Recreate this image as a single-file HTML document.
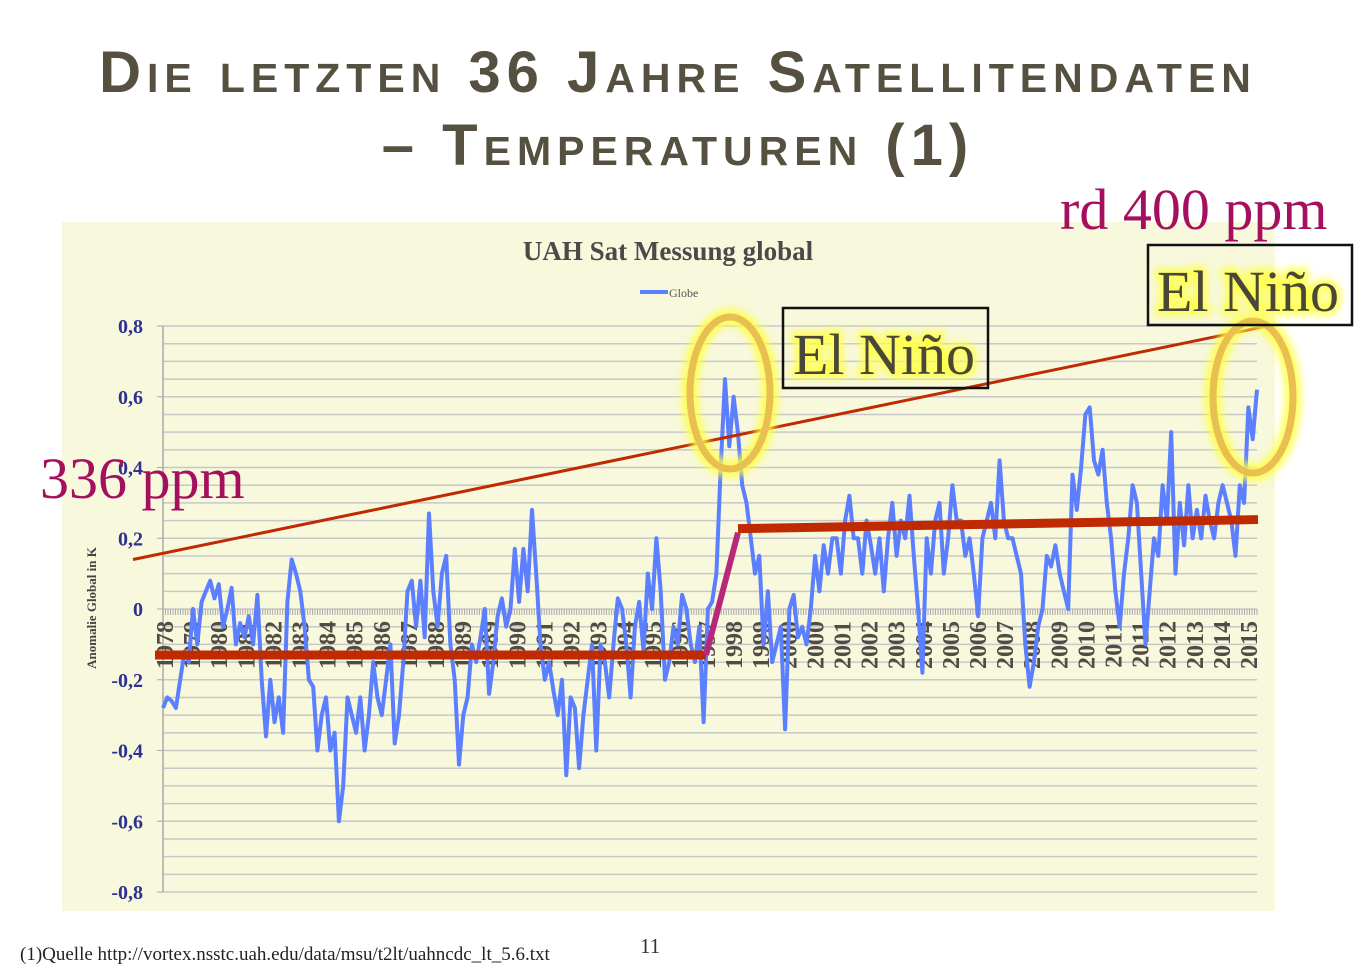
<!DOCTYPE html>
<html><head><meta charset="utf-8"><style>
body{margin:0;background:#fff;width:1356px;height:972px;overflow:hidden;font-family:"Liberation Serif",serif}
.t{position:absolute;left:0;width:1356px;text-align:center;font-family:"Liberation Sans",sans-serif;font-weight:bold;font-variant:small-caps;color:#555040;letter-spacing:6px;font-size:58px;line-height:70px}
</style></head><body>
<div class="t" style="top:38px">Die letzten 36 Jahre Satellitendaten</div>
<div class="t" style="top:111px">– Temperaturen (1)</div>
<svg id="chart" width="1356" height="972" style="position:absolute;left:0;top:0" xmlns="http://www.w3.org/2000/svg">
<defs><filter id="glow" x="-50%" y="-50%" width="200%" height="200%"><feGaussianBlur stdDeviation="4"/></filter></defs>
<rect x="62" y="222" width="1213" height="689" fill="#f7f8dc"/>
<text x="668" y="260" text-anchor="middle" font-size="27" font-weight="bold" fill="#4a4a4a">UAH Sat Messung global</text>
<line x1="640" y1="292" x2="668" y2="292" stroke="#5b7fff" stroke-width="4"/>
<text x="669" y="297" font-size="12" fill="#555">Globe</text>
<text transform="translate(96,608) rotate(-90)" text-anchor="middle" font-size="13" font-weight="bold" fill="#444">Anomalie Global in K</text>
<g id="grid"></g><g id="xlab"></g><g id="series"></g><g id="annot"></g>
</svg>
<script>
const yTicks=[0.8,0.6,0.4,0.2,0,-0.2,-0.4,-0.6,-0.8];
const xLabels=["1978","1979","1980","1981","1982","1983","1984","1985","1986","1987","1988","1989","1989","1990","1991","1992","1993","1994","1995","1996","1997","1998","1999","2000","2000","2001","2002","2003","2004","2005","2006","2007","2008","2009","2010","2011","2011","2012","2013","2014","2015"];
const globe=[-0.28,-0.25,-0.26,-0.28,-0.2,-0.12,-0.15,0.0,-0.1,0.02,0.05,0.08,0.03,0.07,-0.05,0.0,0.06,-0.1,-0.04,-0.08,-0.02,-0.1,0.04,-0.2,-0.36,-0.2,-0.32,-0.25,-0.35,0.02,0.14,0.1,0.05,-0.05,-0.2,-0.22,-0.4,-0.3,-0.25,-0.4,-0.35,-0.6,-0.5,-0.25,-0.3,-0.35,-0.25,-0.4,-0.3,-0.15,-0.25,-0.3,-0.2,-0.1,-0.38,-0.3,-0.15,0.05,0.08,-0.05,0.08,-0.08,0.27,0.05,-0.05,0.1,0.15,-0.1,-0.2,-0.44,-0.3,-0.25,-0.1,-0.15,-0.08,0.0,-0.24,-0.15,-0.02,0.03,-0.05,0.0,0.17,0.02,0.17,0.05,0.28,0.1,-0.1,-0.2,-0.15,-0.23,-0.3,-0.2,-0.47,-0.25,-0.28,-0.45,-0.3,-0.2,-0.1,-0.4,-0.1,-0.15,-0.25,-0.1,0.03,0.0,-0.1,-0.25,-0.05,0.02,-0.12,0.1,0.0,0.2,0.05,-0.2,-0.15,-0.05,-0.1,0.04,0.0,-0.1,-0.15,-0.05,-0.32,0.0,0.02,0.1,0.4,0.65,0.46,0.6,0.5,0.35,0.3,0.2,0.1,0.15,-0.1,0.05,-0.15,-0.1,-0.05,-0.34,0.0,0.04,-0.08,-0.05,-0.1,0.0,0.15,0.05,0.18,0.1,0.2,0.2,0.1,0.25,0.32,0.2,0.2,0.1,0.25,0.18,0.1,0.2,0.05,0.2,0.3,0.15,0.25,0.2,0.32,0.15,0.0,-0.18,0.2,0.1,0.25,0.3,0.1,0.2,0.35,0.25,0.25,0.15,0.2,0.1,-0.02,0.2,0.25,0.3,0.2,0.42,0.25,0.2,0.2,0.15,0.1,-0.1,-0.22,-0.15,-0.05,0.0,0.15,0.12,0.18,0.1,0.05,0.0,0.38,0.28,0.4,0.55,0.57,0.42,0.38,0.45,0.3,0.2,0.05,-0.05,0.1,0.2,0.35,0.3,0.1,-0.1,0.05,0.2,0.15,0.35,0.25,0.5,0.1,0.3,0.18,0.35,0.2,0.28,0.2,0.32,0.25,0.2,0.3,0.35,0.3,0.25,0.15,0.35,0.3,0.57,0.48,0.62];
const trendThin=[0.14,0.78];
const trendA=-0.13, trendB=[0.23,0.25];
const X0=163,X1=1257,Y0=609,K=353.75;
const NS="http://www.w3.org/2000/svg";
function y(v){return Y0-v*K;}
function x(i,n){return X0+(X1-X0)*i/(n-1);}
function mk(t,a,p){const e=document.createElementNS(NS,t);for(const k in a)e.setAttribute(k,a[k]);p.appendChild(e);return e;}
const grid=document.getElementById('grid');
for(let v=-0.8;v<=0.8001;v+=0.05){const l=mk('line',{x1:X0,x2:X1,y1:y(v),y2:y(v),stroke:'#c8c8c8','stroke-width':1.5},grid);

}
const ax=mk('line',{x1:X0,x2:X0,y1:y(0.8),y2:y(-0.8),stroke:'#aaa','stroke-width':1.5},grid);


yTicks.forEach(v=>{const t=mk('text',{x:143,y:y(v)+7,'text-anchor':'end','font-size':20,'font-weight':'bold',fill:'#2e3192'},grid);t.textContent=String(v).replace('.',',');


const tk=mk('line',{x1:X0-6,x2:X0,y1:y(v),y2:y(v),stroke:'#aaa'},grid);

});
const n=globe.length;
let d='';for(let i=0;i<440;i++){const xx=X0+(X1-X0)*i/439;d+='M'+xx+' '+Y0+'v6';}
const mt=mk('path',{d:d,stroke:'#aaa','stroke-width':1},grid);


const xl=document.getElementById('xlab');
xLabels.forEach((s,i)=>{const xx=X0+2+(X1-X0-10)*i/(xLabels.length-1);const t=mk('text',{transform:`translate(${xx+8},621) rotate(-90)`,'text-anchor':'end','font-size':24,'font-weight':'bold',fill:'#504c44'},xl);t.textContent=s;

});
const pts=globe.map((v,i)=>x(i,n).toFixed(1)+','+y(v).toFixed(1)).join(' ');
const pl=mk('polyline',{points:pts,fill:'none',stroke:'#5b7fff','stroke-width':4,'stroke-linejoin':'round'},document.getElementById('series'));


const an=document.getElementById('annot');
const a1=mk('line',{x1:133,y1:y(trendThin[0])+0,x2:1267,y2:y(trendThin[1])-7,stroke:'#c02a00','stroke-width':3},an);


const a2=mk('line',{x1:155,y1:y(trendA),x2:706,y2:y(trendA),stroke:'#c02a00','stroke-width':9},an);


const a3=mk('line',{x1:706,y1:y(trendA),x2:738,y2:y(trendB[0])+5,stroke:'#b8287a','stroke-width':6},an);


const a4=mk('line',{x1:738,y1:y(trendB[0])+1,x2:1258,y2:y(trendB[1])-1,stroke:'#c02a00','stroke-width':9},an);


[[730,393],[1253,397]].forEach(c=>{mk('ellipse',{cx:c[0],cy:c[1],rx:40,ry:76,fill:'none',stroke:'#ffff40','stroke-width':16,filter:'url(#glow)',opacity:0.9},an);
const e=mk('ellipse',{cx:c[0],cy:c[1],rx:40,ry:76,fill:'none',stroke:'#e8bf50','stroke-width':7},an);

});
function box(x0,y0,w,h,tx,ty,name){const r=mk('rect',{x:x0,y:y0,width:w,height:h,fill:'#fff','fill-opacity':0,stroke:'#111','stroke-width':2.5},an);


mk('text',{x:tx,y:ty,'font-size':58,fill:'none',stroke:'#ffff50','stroke-width':8,filter:'url(#glow)'},an).textContent='El Niño';
const t=mk('text',{x:tx,y:ty,'font-size':58,fill:'#4a4638'},an);t.textContent='El Niño';

}
box(783,308,205,80,793,374,'el-nino-1998');
box(1148,245,204,80,1157,311,'el-nino-2015');
const p1=mk('text',{x:1060,y:229,'font-size':58,fill:'#a5105e'},an);p1.textContent='rd 400 ppm';


const p2=mk('text',{x:40,y:498,'font-size':58,fill:'#a5105e'},an);p2.textContent='336 ppm';


</script>
<div style="position:absolute;left:20px;top:944px;font-size:19px;color:#222">(1)Quelle http://vortex.nsstc.uah.edu/data/msu/t2lt/uahncdc_lt_5.6.txt</div>
<div style="position:absolute;left:640px;top:934px;font-size:21px;color:#333">11</div>
</body></html>
